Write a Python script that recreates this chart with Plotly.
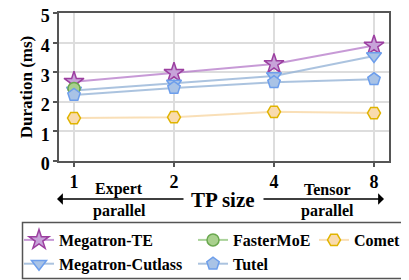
import plotly.graph_objects as go
import math

tp_sizes = [1, 2, 4, 8]
megatron_te = [2.68, 2.98, 3.28, 3.90]
megatron_cutlass = [2.38, 2.62, 2.87, 3.55]
fastermoe_x = [1]
fastermoe = [2.45]
tutel = [2.23, 2.47, 2.66, 2.76]
comet = [1.45, 1.48, 1.66, 1.62]
y_ticks = [0, 1, 2, 3, 4, 5]

OFF = 8  # page body margin in the browser
W, H = 409 - OFF, 280 - OFF
# plot area in screen pixels
SL, SR, ST, SB = 59, 389, 13, 161
L, R, T, B = SL - OFF, SR - OFF, ST - OFF, SB - OFF
FONT = "Liberation Serif"


def px(x):
    return (x - SL) / (SR - SL)


def py(y):
    return (SB - y) / (SB - ST)


fig = go.Figure()

series = [
    ("Megatron-TE", tp_sizes, megatron_te, "star", 15, "#c7a3d9", "#9c3fa0", "rgba(180,120,200,0.75)", "legend"),
    ("Megatron-Cutlass", tp_sizes, megatron_cutlass, "triangle-down", 13, "#a9c3e6", "#6d9eeb", "rgba(150,180,215,0.8)", "legend"),
    ("FasterMoE", fastermoe_x, fastermoe, "circle", 12, "#a9d08e", "#6aa84f", "rgba(150,200,130,0.8)", "legend2"),
    ("Tutel", tp_sizes, tutel, "pentagon", 13, "#a9c3e6", "#6d9eeb", "rgba(150,180,215,0.8)", "legend2"),
    ("Comet", tp_sizes, comet, "hexagon2", 13, "#f9dbae", "#e0b400", "rgba(248,220,175,0.9)", "legend3"),
]

for name, xs, ys, sym, size, fill, edge, lcol, leg in series:
    fig.add_trace(go.Scatter(
        x=xs, y=ys, name=name, mode="lines+markers",
        line=dict(color=lcol, width=2),
        marker=dict(symbol=sym, size=size, color=fill, line=dict(color=edge, width=1.5)),
        legend=leg,
    ))

log2 = math.log10(2)
axis_common = dict(
    showline=True, linecolor="#555555", linewidth=1.5, mirror=True,
    ticks="outside", ticklen=4, tickcolor="#555555", tickwidth=1.5,
    showgrid=True, gridcolor="#dddddd", gridwidth=1.5,
    tickfont=dict(size=18, family=FONT, color="black", weight="bold"),
    zeroline=False, automargin=False, ticklabeloverflow="allow",
)
fig.update_xaxes(type="log", range=[-0.15 * log2, 3.15 * log2],
                 tickvals=tp_sizes, ticktext=[str(v) for v in tp_sizes], **axis_common)
fig.update_yaxes(range=[0, 5], tickvals=y_ticks, ticklabelshift=3,
                 title=dict(text="Duration (ms)", font=dict(size=17, family=FONT, color="black", weight="bold"), standoff=4),
                 **axis_common)

ann_font = dict(size=16, family=FONT, color="black", weight="bold")
annotations = [
    dict(text="Expert", x=px(119), y=py(189)),
    dict(text="parallel", x=px(119), y=py(211)),
    dict(text="Tensor", x=px(327), y=py(189)),
    dict(text="parallel", x=px(327), y=py(211)),
]
for a in annotations:
    fig.add_annotation(xref="paper", yref="paper", showarrow=False,
                       xanchor="center", yanchor="middle", font=ann_font, **a)
fig.add_annotation(xref="paper", yref="paper", x=px(223), y=py(200), text="TP size",
                   showarrow=False, xanchor="center", yanchor="middle",
                   font=dict(size=21, family=FONT, color="black", weight="bold"))
# arrows
fig.add_annotation(xref="paper", yref="paper", x=px(57), y=py(199), ax=128, ay=0,
                   axref="pixel", ayref="pixel", text="", showarrow=True,
                   arrowhead=1, arrowsize=1.3, arrowwidth=1.5, arrowcolor="black")
fig.add_annotation(xref="paper", yref="paper", x=px(384), y=py(199), ax=-122, ay=0,
                   axref="pixel", ayref="pixel", text="", showarrow=True,
                   arrowhead=1, arrowsize=1.3, arrowwidth=1.5, arrowcolor="black")

# legend frame
fig.add_shape(type="rect", xref="paper", yref="paper",
              x0=px(22.5), x1=px(430), y0=py(222.5), y1=py(278.5),
              line=dict(color="#555555", width=1.5), fillcolor="rgba(0,0,0,0)")

leg_common = dict(bgcolor="rgba(0,0,0,0)", borderwidth=0, orientation="v",
                  xanchor="left", yanchor="top", tracegroupgap=0,
                  font=dict(size=16, family=FONT, color="black", weight="bold"))

fig.update_layout(
    template="none",
    width=W, height=H,
    margin=dict(l=L, r=W - R, t=T, b=H - B, autoexpand=False),
    paper_bgcolor="white", plot_bgcolor="white",
    font=dict(family=FONT, color="black"),
    showlegend=True,
    legend=dict(x=px(19), y=py(223), **leg_common),
    legend2=dict(x=px(193), y=py(223), **leg_common),
    legend3=dict(x=px(314), y=py(223), **leg_common),
)

fig.write_html("out.html")
